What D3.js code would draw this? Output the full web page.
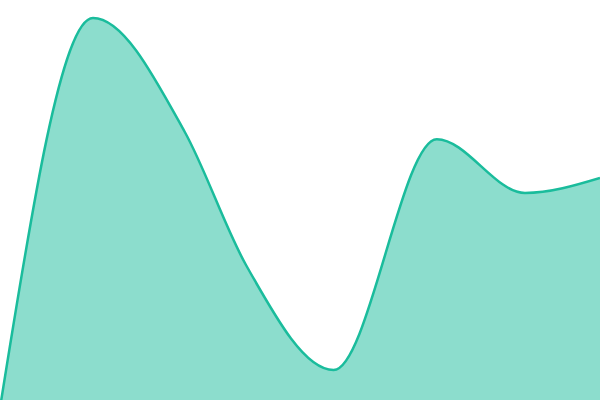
<!DOCTYPE html>
<html>
<head>
<meta charset="utf-8">
<script src="https://cdn.jsdelivr.net/npm/d3@7"></script>
<style>
  body { margin: 0; background: #fff; }
  svg { display: block; }
</style>
</head>
<body>
<div id="chart"></div>
<script>
var svgWidth = 600;
var svgHeight = 400;

// data
var xValues = [0, 15.5, 30.8, 41, 55.6, 72.8, 87.5, 100];
var yValues = [-2, 95.5, 67, 33.75, 7.5, 65.2, 51.75, 55.5];

var data = xValues.map((x, i) => ({ x: x, y: yValues[i] }));

var svg = d3.select("#chart")
  .append("svg")
  .attr("width", svgWidth)
  .attr("height", svgHeight);

var xScale = d3.scaleLinear()
  .domain([0, 100])
  .range([0, svgWidth]);

var yScale = d3.scaleLinear()
  .domain([0, 100])
  .range([svgHeight, 0]);

var area = d3.area()
  .x(d => xScale(d.x))
  .y0(yScale(-5))
  .y1(d => yScale(d.y))
  .curve(d3.curveMonotoneX);

var line = d3.line()
  .x(d => xScale(d.x))
  .y(d => yScale(d.y))
  .curve(d3.curveMonotoneX);

svg.append("path")
  .datum(data)
  .attr("d", area)
  .attr("fill", "#1abc9c")
  .attr("fill-opacity", 0.5);

svg.append("path")
  .datum(data)
  .attr("d", line)
  .attr("fill", "none")
  .attr("stroke", "#1abc9c")
  .attr("stroke-width", 2.5);
</script>
</body>
</html>
